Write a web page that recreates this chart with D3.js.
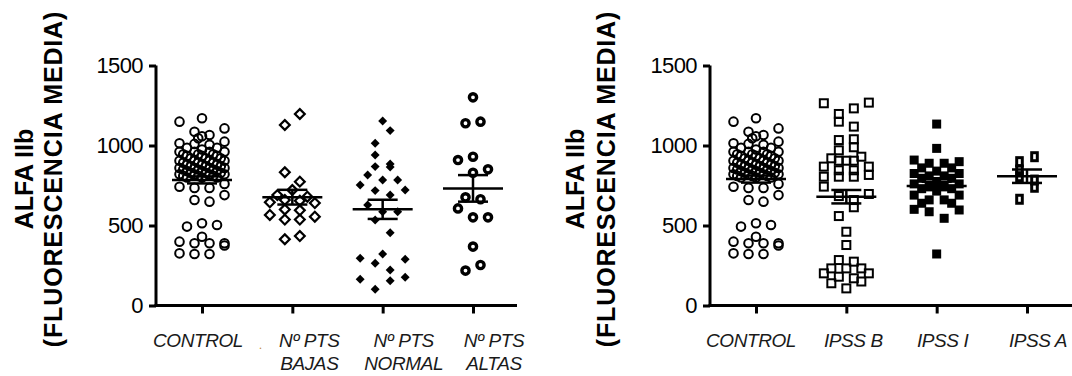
<!DOCTYPE html>
<html><head><meta charset="utf-8">
<script src="https://cdn.jsdelivr.net/npm/d3@7/dist/d3.min.js"></script>
<style>body{margin:0;background:#fff}svg{display:block}</style>
</head><body>
<svg id="chart" width="1072" height="376"></svg>
<script>
// ---------- data ----------
const yTicks = [0, 500, 1000, 1500];
const leftCategories = ["CONTROL", "Nº PTS BAJAS", "Nº PTS NORMAL", "Nº PTS ALTAS"];
const leftLabelLines = [["CONTROL"], ["Nº PTS", "BAJAS"], ["Nº PTS", "NORMAL"], ["Nº PTS", "ALTAS"]];
const rightCategories = ["CONTROL", "IPSS B", "IPSS I", "IPSS A"];
const rightLabelLines = [["CONTROL"], ["IPSS B"], ["IPSS I"], ["IPSS A"]];
const leftMeans = [785, 677, 601, 732];
const leftSems = [22, 46, 60, 83];
const rightMeans = [790, 680, 747, 808];
const rightSems = [22, 42, 26, 42];
const yTitle1 = "ALFA IIb";
const yTitle2 = "(FLUORESCENCIA MEDIA)";

// points: [value, column slot]
const controlPts = [
  [1170,0],[1149,-3],[1107,3],[1086,-1],[1066,1],[1058,0],[1045,-0.5],[1024,3],[1014,-3],[1010,-1],[1005,1],
  [985,-2],[985,2],[975,0],
  [961,-3],[961,-1],[961,1],[961,3],
  [945,-2.5],[945,-0.5],[945,1.5],
  [935,-2],[935,0],[935,2],
  [920,-1.5],[920,0.5],[920,2.5],
  [905,-3],[905,-1],[905,1],[905,3],
  [892,-2.5],[892,-0.5],[892,1.5],
  [880,-2],[880,0],[880,2],
  [870,-1.5],[870,0.5],[870,2.5],
  [860,-3],[860,-1],[860,1],[860,3],
  [850,-2.5],[850,-0.5],[850,1.5],
  [840,-2],[840,0],[840,2],
  [830,-1.5],[830,0.5],[830,2.5],
  [820,-3],[820,-1],[820,1],[820,3],
  [810,-2.5],[810,-0.5],[810,1.5],
  [800,-2],[800,0],[800,2],
  [742,-3],[735,-1],[735,1],[760,3],
  [690,3],[659,-1],[649,1],
  [514,0],[503,2],[493,-2],[430,0],[399,-3],[389,-1],[389,1],[389,3],[375,3],[326,-3],[322,-1],[322,1]
];
const bajasPts = [
  [1197,1],[1128,-1],[833,-1],[774,1],[722,0],[690,-2],[680,2],[660,-1],[655,1],[645,-3],
  [640,3],[600,-1],[595,1],[566,-3],[555,3],[537,-1],[537,1],[434,1],[414,-1]
];
const normalPts = [
  [1153,0],[1093,1],[1014,-1],[941,-1],[884,1],[865,1],[868,-1],[816,-2],[753,-3],[784,0],
  [784,2],[718,-1],[722,3],[691,1],[628,-2],[586,2],[586,0],[534,-1],[455,1],[295,-3],
  [322,0],[289,3],[264,-1],[222,1],[164,-3],[155,1],[176,3],[101,-1]
];
const altasPts = [
  [1301,0],[1139,-1],[1149,1],[909,-2],[930,0],[851,2],[830,0],[676,-1],[607,-2],[664,1],
  [551,0],[551,2],[368,0],[218,-1],[253,1]
];
const ipssBPts = [
  [1268,3],[1264,-3],[1232,1],[1197,-1],[1149,-1],[1118,1],[1039,1],[1034,-1],[989,1],[970,-1],
  [930,2],[920,-2],[905,-1],[905,0],[905,1],[868,-3],[868,3],[845,-1],[845,1],[816,3],
  [805,-3],[805,-1],[805,1],[743,-3],[697,3],[684,-1],[659,1],[614,1],[559,-1],[461,0],[378,0],
  [284,-1],[274,1],[232,-2],[232,0],[232,2],[201,-3],[201,3],[180,-1],[170,1],[150,2],[139,-2],[107,0]
];
const ipssIPts = [
  [1134,0],[982,0],[909,-3],[899,3],[889,-1],[889,1],[860,-2],[860,2],[840,0],[825,-3],
  [825,3],[810,-1],[810,1],[795,-2],[795,2],[775,0],[760,-3],[760,3],[745,-1],[745,1],
  [730,-2],[730,2],[715,0],[690,-3],[690,3],[660,-1],[660,1],[639,-2],[639,2],[601,-3],
  [597,3],[586,-1],[545,1],[322,0]
];
const ipssAPts = [[930,1],[899,-1],[847,-1],[805,-1],[784,1],[739,1],[664,-1]];

// ---------- drawing ----------
const svg = d3.select("#chart");
const y = d3.scaleLinear().domain([0, 1500]).range([305.5, 65.5]);
const SLOT = 7.5;

const markers = {
  openCircle: (s) => s.append("circle").attr("r", 4.3).attr("fill", "none").attr("stroke", "#000").attr("stroke-width", 2),
  openDiamond: (s) => s.append("path").attr("d", d3.symbol(d3.symbolSquare, 48)()).attr("transform", "rotate(45)")
      .attr("fill", "none").attr("stroke", "#000").attr("stroke-width", 2.2),
  filledDiamond: (s) => s.append("path").attr("d", d3.symbol(d3.symbolSquare, 40)()).attr("transform", "rotate(45)").attr("fill", "#000"),
  ring: (s) => s.append("circle").attr("r", 3.6).attr("fill", "none").attr("stroke", "#000").attr("stroke-width", 3.4),
  openSquare: (s) => s.append("rect").attr("x", -4).attr("y", -4).attr("width", 8).attr("height", 8)
      .attr("fill", "none").attr("stroke", "#000").attr("stroke-width", 2),
  filledSquare: (s) => s.append("rect").attr("x", -4.5).attr("y", -4.5).attr("width", 9).attr("height", 9).attr("fill", "#000"),
  thickRect: (s) => s.append("rect").attr("x", -2.8).attr("y", -4).attr("width", 5.6).attr("height", 8)
      .attr("fill", "none").attr("stroke", "#000").attr("stroke-width", 3)
};

const panels = [
  { axisX: 156, endX: 517, cats: leftCategories, lines: leftLabelLines,
    groups: [[controlPts, "openCircle"], [bajasPts, "openDiamond"], [normalPts, "filledDiamond"], [altasPts, "ring"]],
    means: leftMeans, sems: leftSems, shifts: [-4, 17, 21, 21], t1: 123, t2: 94 },
  { axisX: 710, endX: 1080, cats: rightCategories, lines: rightLabelLines,
    groups: [[controlPts, "openCircle"], [ipssBPts, "openSquare"], [ipssIPts, "filledSquare"], [ipssAPts, "thickRect"]],
    means: rightMeans, sems: rightSems, shifts: [-5, 7, 6, 11], t1: 126, t2: 95 }
];

panels.forEach(p => {
  const g = svg.append("g");
  const x = d3.scalePoint().domain(p.cats).range([p.axisX + 46, p.axisX + 317]);

  // y axis
  const ya = g.append("g").attr("transform", `translate(${p.axisX},0)`)
    .call(d3.axisLeft(y).tickValues(yTicks).tickSize(7).tickPadding(6).tickFormat(d3.format("d")));
  ya.select(".domain").remove();
  ya.selectAll(".tick line").attr("stroke", "#000").attr("stroke-width", 3);
  ya.selectAll(".tick text").attr("fill", "#000")
    .style("font-family", "'Liberation Sans', Arial, sans-serif").style("font-size", "22px").style("letter-spacing", "-0.6px");
  g.append("line").attr("x1", p.axisX).attr("x2", p.axisX).attr("y1", y(1500)).attr("y2", y(0) + 1.5)
    .attr("stroke", "#000").attr("stroke-width", 3);

  // x axis
  const xa = g.append("g").attr("transform", `translate(0,${y(0)})`)
    .call(d3.axisBottom(x).tickSize(8).tickFormat(""));
  xa.select(".domain").remove();
  xa.selectAll(".tick line").attr("stroke", "#000").attr("stroke-width", 3);
  g.append("line").attr("x1", p.axisX - 1.5).attr("x2", p.endX).attr("y1", y(0)).attr("y2", y(0))
    .attr("stroke", "#000").attr("stroke-width", 3);

  // x labels
  p.cats.forEach((c, i) => {
    p.lines[i].forEach((ln, k) => {
      g.append("text").attr("text-anchor", "middle")
        .attr("x", x(c) + p.shifts[i]).attr("y", 347 + k * 23)
        .style("font-family", "'Liberation Sans', Arial, sans-serif").style("font-style", "italic")
        .style("font-size", "19px").style("letter-spacing", "-0.4px").attr("fill", "#1a1a1a").text(ln);
    });
  });

  // y titles
  g.append("text").attr("transform", `translate(${p.axisX - p.t1},179) rotate(-90)`).attr("text-anchor", "middle")
    .style("font", "bold 25px 'Liberation Sans', Arial, sans-serif").attr("fill", "#000").text(yTitle1);
  g.append("text").attr("transform", `translate(${p.axisX - p.t2},179) rotate(-90)`).attr("text-anchor", "middle")
    .style("font", "bold 25px 'Liberation Sans', Arial, sans-serif").style("letter-spacing", "0.85px")
    .attr("fill", "#000").text(yTitle2);

  // points
  p.groups.forEach(([pts, mk], i) => {
    const cx = x(p.cats[i]);
    pts.forEach(([v, slot]) => {
      const s = g.append("g").attr("transform", `translate(${cx + slot * SLOT},${y(v)})`);
      markers[mk](s);
    });
    // mean and SEM
    const mean = p.means[i], sem = p.sems[i];
    const ln = (x1, x2, y1, y2) => g.append("line").attr("x1", x1).attr("x2", x2).attr("y1", y1).attr("y2", y2)
      .attr("stroke", "#000").attr("stroke-width", 2.5);
    ln(cx - 30, cx + 30, y(mean), y(mean));
    ln(cx - 15, cx + 15, y(mean + sem), y(mean + sem));
    ln(cx - 15, cx + 15, y(mean - sem), y(mean - sem));
    ln(cx, cx, y(mean + sem), y(mean - sem));
  });
});

// small stray mark seen between the first two labels of the left panel
svg.append("text").attr("x", 259).attr("y", 349).style("font-size", "12px").attr("fill", "#c08a3a").text(".");
</script>
</body></html>
